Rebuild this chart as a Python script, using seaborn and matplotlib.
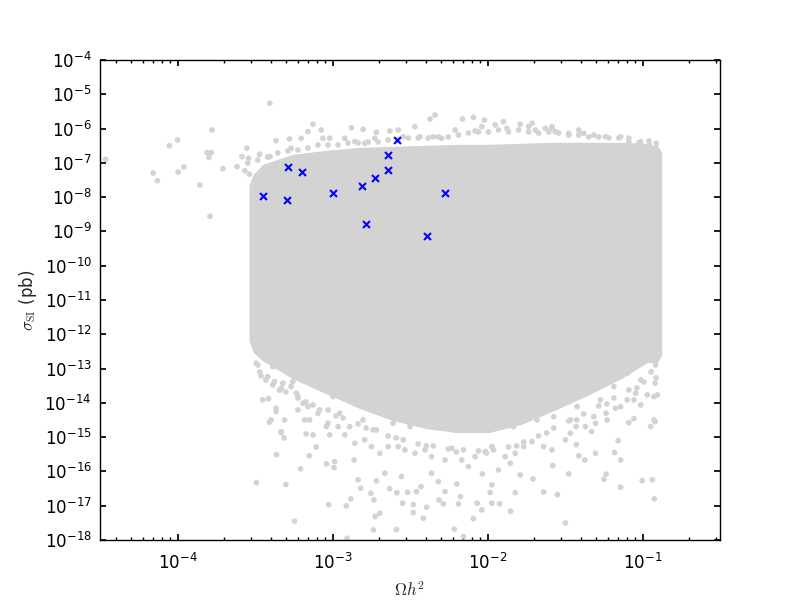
import numpy as np
import matplotlib
matplotlib.use("Agg")
import matplotlib.pyplot as plt
import seaborn as sns
from matplotlib.ticker import LogLocator, NullLocator

# benchmark points (blue crosses)
bench_omega = [3.55e-4, 5.15e-4, 5.1e-4, 6.4e-4, 1.0e-3, 1.55e-3, 1.64e-3,
               1.87e-3, 2.28e-3, 2.28e-3, 2.59e-3, 5.3e-3, 4.05e-3]
bench_sigma = [1.1e-8, 7.8e-8, 8.1e-9, 5.5e-8, 1.3e-8, 2.1e-8, 1.7e-9,
               3.5e-8, 6.2e-8, 1.7e-7, 4.65e-7, 1.3e-8, 7.2e-10]

# envelope of the saturated part of the scan (log10 values)
env_log_omega = [-3.534, -3.508, -3.450, -3.256, -3.042, -2.822, -2.609, -2.395, -2.188,
                 -1.994, -1.787, -1.573, -1.359, -1.139, -0.971, -0.906, -0.881]
env_log_sigma_top = [-7.645, -7.353, -7.062, -6.770, -6.654, -6.566, -6.537, -6.508, -6.479,
                     -6.479, -6.449, -6.420, -6.420, -6.420, -6.449, -6.537, -6.683]
env_log_sigma_bot = [-12.165, -12.515, -12.748, -13.273, -13.710, -14.148, -14.498, -14.731, -14.848,
                     -14.848, -14.614, -14.206, -13.769, -13.273, -12.806, -12.806, -12.602]

# scan points outside the saturated region (log10 values)
grey_log_omega = [
    # far left
    -4.464, -3.778, -4.0, -4.052, -3.81, -3.782, -3.797, -4.157, -4.129, -3.996, -3.959,
    -3.856, -3.79, -3.707, -3.553, -3.584, -3.616, -3.566, -3.536, -3.542, -3.405,
    # upper fringe
    -3.471, -3.403, -3.364, -3.277, -3.267, -3.202, -3.159, -3.126, -3.073, -3.062, -3.018,
    -2.964, -2.921, -2.878, -2.803, -2.792, -2.727, -2.717, -2.630, -2.576, -2.544, -2.468,
    -2.436, -2.371, -2.339, -2.350, -2.296, -3.094, -2.856, -2.162, -2.091, -2.020, -2.209,
    -2.080, -2.037, -1.950, -1.897, -1.875, -1.789, -1.735, -1.691, -1.627, -1.584, -1.562,
    -1.476, -1.411, -1.379, -1.314, -1.238, -1.141, -1.088, -1.012, -0.958, -0.911, -0.995,
    -1.713, -1.584,
    # upper edge
    -3.547, -3.482, -3.418, -3.353, -3.288, -3.223, -3.159, -3.029, -2.900, -2.835, -2.770,
    -2.706, -2.641, -2.576, -2.511, -2.447, -2.382, -2.317, -2.253, -2.188, -2.123, -2.058,
    -1.994, -1.929, -1.864, -1.800, -1.735, -1.670, -1.605, -1.541, -1.476, -1.411, -1.346,
    -1.282, -1.217, -1.152, -1.088, -1.023, -0.958, -0.913,
    # lower edge
    -3.469, -3.385, -3.301, -3.223, -3.126, -3.029, -2.932, -2.835, -2.738, -2.641, -2.544,
    -2.447, -2.350, -2.253, -2.155, -2.058, -1.961, -1.864, -1.767, -1.670, -1.573, -1.476,
    -1.379, -1.282, -1.185, -1.088, -0.991, -0.913,
    -3.430, -3.340, -3.172, -2.977, -2.783, -2.589, -2.395, -2.201, -2.007, -1.812, -1.618,
    -1.424, -1.230, -1.036, -0.945,
    # lower tail
    -3.493, -3.482, -3.461, -3.450, -3.413, -3.407, -3.364, -3.361, -3.491, -3.331, -3.312,
    -3.301, -3.245, -3.206, -3.150, -3.105, -3.170, -3.126, -3.025, -3.038, -2.990, -2.986,
    -3.018, -2.906, -2.911, -2.882, -2.861, -2.818, -2.835, -2.753, -2.733, -2.736, -2.725,
    -2.695, -2.717, -2.662, -2.632, -2.587, -2.585, -2.548, -2.555, -2.516, -2.479, -2.479,
    -2.458, -2.429, -2.414, -2.393, -2.361, -2.317, -2.313, -2.285, -2.274, -2.214, -2.199,
    -2.188, -2.155, -2.175, -2.091, -2.067, -2.037, -2.033, -1.983, -1.972, -1.972, -1.922,
    -1.929, -1.851, -1.821, -1.789, -1.707, -1.638, -1.579, -1.549, -1.497, -1.476, -1.426,
    -1.411, -1.372, -1.303, -1.249, -1.235, -1.180, -1.157, -1.141, -1.141, -1.002, -0.937,
    -0.924, -0.947, -0.919, -1.055, -1.088, -1.012, -0.969, -0.904, -0.919, -0.915, -0.893,
    -1.044, -1.099, -1.174, -1.235, -1.303, -1.368, -1.429, -1.465, -1.497, -1.584, -1.638,
    -1.713, -1.767, -1.821, -1.853, -1.886, -1.972, -2.015, -2.080, -2.123, -2.166, -2.231,
    -2.274, -2.361, -2.403, -2.468, -2.533, -2.576, -2.641, -2.695, -2.749, -2.792, -2.856,
    -2.921, -2.964, -3.029, -3.094, -3.159, -3.223, -3.267, -3.331, -3.374, -3.418, -3.223,
    -3.180, -3.309, -1.329,
    # fringe just below the saturated part
    -3.493, -3.418, -3.385, -3.364, -3.320, -3.342, -3.396, -3.364, -3.331, -3.299, -3.256,
    -3.234, -3.191, -3.212, -3.170, -3.148, -3.105, -3.083, -3.040, -2.997, -2.953, -2.932,
    -2.889, -2.846, -2.803, -2.759, -2.717, -2.673, -2.609, -2.544, -2.500, -2.436, -2.371,
    -2.285, -2.220, -2.177, -2.091, -2.005, -1.918, -1.832, -1.767, -1.681, -1.616, -1.573,
    -1.508, -1.465, -1.422, -1.357, -1.314, -1.271, -1.228, -1.185, -1.141, -1.099, -1.055,
    -1.012, -0.969, -0.926, -0.926, -0.947, -1.012, -1.120, -1.228, -1.293,
]
grey_log_sigma = [
    # far left
    -6.897, -6.04, -6.333, -6.5, -6.70, -6.70, -6.84, -7.295, -7.52, -7.27, -7.12,
    -7.645, -8.56, -7.17, -6.575, -6.82, -7.11, -7.23, -7.33, -6.867, -5.26,
    # upper fringe
    -6.750, -6.820, -6.353, -6.304, -6.575, -6.283, -6.091, -5.875, -6.041, -6.283, -6.283,
    -6.479, -6.283, -5.974, -6.021, -6.429, -6.283, -6.108, -6.070, -6.041, -6.237, -5.945,
    -6.237, -5.720, -5.604, -6.237, -6.283, -6.479, -6.382, -5.720, -5.671, -5.750, -6.041,
    -6.070, -5.945, -5.895, -5.799, -5.992, -5.875, -5.945, -6.041, -5.992, -5.992, -6.091,
    -6.137, -6.041, -6.137, -6.187, -6.237, -6.237, -6.283, -6.382, -6.362, -6.429, -6.528,
    -5.846, -5.945,
    # upper edge
    -7.003, -6.916, -6.829, -6.712, -6.654, -6.624, -6.566, -6.479, -6.420, -6.420, -6.391,
    -6.391, -6.333, -6.333, -6.274, -6.274, -6.274, -6.245, -6.245, -6.187, -6.129, -6.100,
    -6.100, -6.041, -6.100, -6.041, -6.100, -6.129, -6.100, -6.129, -6.187, -6.187, -6.245,
    -6.245, -6.274, -6.274, -6.391, -6.420, -6.479, -6.566,
    # lower edge
    -13.098, -13.477, -13.681, -13.856, -14.060, -14.206, -14.439, -14.614, -14.789, -14.964, -15.081,
    -15.197, -15.256, -15.343, -15.372, -15.402, -15.372, -15.285, -15.139, -14.964, -14.731, -14.527,
    -14.323, -14.089, -13.856, -13.623, -13.390, -13.273,
    -13.331, -13.623, -13.973, -14.381, -14.731, -15.022, -15.256, -15.431, -15.460, -15.256, -14.877,
    -14.498, -14.031, -13.565, -13.098,
    # lower tail
    -12.436, -12.894, -13.215, -13.914, -13.876, -14.565, -14.256, -15.510, -16.326, -14.868, -15.022,
    -16.384, -17.452, -15.926, -15.547, -15.285, -14.906, -14.935, -16.967, -15.781, -15.889, -15.714,
    -14.935, -17.95, -17.005, -16.801, -15.664, -16.489, -16.247, -16.635, -16.830, -17.705, -17.317,
    -17.218, -16.276, -16.052, -16.501, -17.696, -16.618, -16.927, -16.151, -16.606, -16.967, -17.201,
    -16.588, -16.443, -17.364, -17.043, -16.052, -16.297, -16.830, -16.947, -16.588, -17.685, -16.364,
    -16.947, -17.901, -16.734, -17.376, -16.927, -17.122, -16.072, -16.618, -16.393, -16.927, -16.947,
    -15.956, -17.160, -16.618, -16.101, -16.218, -16.597, -15.830, -16.676, -17.501, -16.072, -15.218,
    -15.547, -15.664, -15.469, -16.227, -16.081, -15.451, -15.101, -15.664, -16.460, -16.268, -16.247,
    -16.801, -14.693, -14.547, -14.460, -14.576, -14.060, -13.769, -13.769, -13.427, -12.894, -12.456,
    -13.719, -13.914, -14.157, -14.302, -14.594, -14.693, -14.693, -14.886, -15.081, -15.372, -15.276,
    -15.130, -15.276, -15.469, -15.760, -15.568, -15.276, -15.422, -15.568, -15.859, -15.664, -15.323,
    -15.664, -15.568, -15.372, -15.469, -15.372, -15.276, -15.276, -15.469, -15.276, -15.081, -15.177,
    -14.935, -14.693, -14.594, -14.302, -14.110, -13.818, -13.527, -13.573, -13.381, -13.235, -14.206,
    -14.498, -14.498, -14.839,
    # fringe just below the saturated part
    -12.844, -12.652, -12.943, -12.360, -13.427, -13.623, -14.498, -14.157, -14.839, -13.040, -13.381,
    -13.719, -14.011, -12.844, -13.235, -14.498, -13.527, -14.206, -14.693, -13.818, -14.302, -13.235,
    -14.693, -14.011, -14.498, -13.623, -14.789, -14.206, -14.594, -14.011, -14.693, -14.401, -14.693,
    -14.498, -14.789, -14.693, -14.401, -14.693, -14.498, -14.693, -14.302, -14.498, -14.011, -14.401,
    -13.818, -14.498, -14.110, -13.527, -14.401, -13.914, -14.498, -13.527, -14.110, -13.136, -13.914,
    -13.331, -12.748, -14.498, -13.818, -12.165, -12.748, -12.652, -13.235, -13.040,
]

sns.set_theme(style="ticks", rc={
    "xtick.direction": "in", "ytick.direction": "in",
    "xtick.top": True, "ytick.right": True,
    "xtick.major.size": 4, "ytick.major.size": 4,
    "xtick.minor.size": 2, "ytick.minor.size": 2,
    "xtick.major.pad": 9, "ytick.major.pad": 6,
    "axes.edgecolor": "black", "axes.linewidth": 1.0,
    "xtick.color": "black", "ytick.color": "black",
    "font.size": 12, "axes.labelsize": 12,
    "xtick.labelsize": 12, "ytick.labelsize": 12,
    "mathtext.fontset": "cm", "axes.unicode_minus": False,
})

fig, ax = plt.subplots(figsize=(8, 6), dpi=100)
fig.subplots_adjust(left=0.125, right=0.9, bottom=0.1, top=0.9)
ax.set_xscale("log")
ax.set_yscale("log")

# saturated region of the scan
ax.fill_between(10 ** np.array(env_log_omega), 10 ** np.array(env_log_sigma_bot),
                10 ** np.array(env_log_sigma_top), color="lightgrey",
                edgecolor="lightgrey", linewidth=1, zorder=1)

sns.scatterplot(x=10 ** np.array(grey_log_omega), y=10 ** np.array(grey_log_sigma),
                color="lightgrey", s=17, edgecolor="none", linewidth=0, ax=ax, zorder=2)
sns.scatterplot(x=bench_omega, y=bench_sigma, marker="x", color="blue",
                s=25, linewidth=1.5, ax=ax, zorder=3)

ax.set_xlim(10 ** -4.5, 10 ** -0.5)
ax.set_ylim(1e-18, 1e-4)
ax.yaxis.set_major_locator(LogLocator(base=10, numticks=30))
ax.yaxis.set_minor_locator(NullLocator())

ax.set_xlabel(r"$\Omega h^2$", labelpad=6)
ax.set_ylabel(r"$\sigma_{\rm SI}$ (pb)")

fig.savefig("out.png", dpi=100)
